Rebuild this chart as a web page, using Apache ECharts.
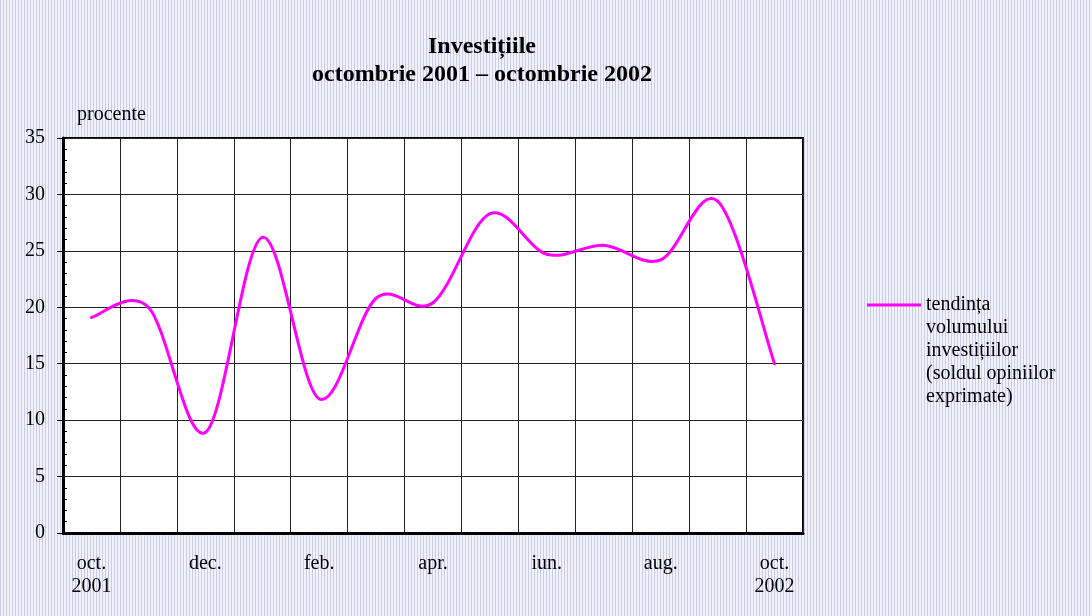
<!DOCTYPE html>
<html>
<head>
<meta charset="utf-8">
<script src="https://cdn.jsdelivr.net/npm/echarts@6/dist/echarts.min.js"></script>
<style>
html,body{margin:0;padding:0;}
body{width:1092px;height:616px;background:repeating-linear-gradient(90deg,#c9c9f1 0px,#c9c9f1 1px,#f3f3fc 1px,#f3f3fc 3px);}
#chart{width:1092px;height:616px;}
</style>
</head>
<body>
<div id="chart"></div>
<script>
var categories = ['oct.\n2001','nov.','dec.','ian.','feb.','mar.','apr.','mai','iun.','iul.','aug.','sep.','oct.\n2002'];
var seriesName = 'tendința\nvolumului\ninvestițiilor\n(soldul opiniilor\nexprimate)';
var values = [19.1, 20.0, 8.9, 26.2, 11.9, 20.8, 20.4, 28.3, 24.7, 25.5, 24.2, 29.4, 15.0];
var yTicks = {min: 0, max: 35, interval: 5};

var font = 'Liberation Serif, Times New Roman, serif';

// Smoothed line (Catmull-Rom style, as in spreadsheet charts), positioned through the axes
function renderSmooth(params, api) {
  if (params.dataIndex !== 0) return null;
  var pts = [];
  for (var i = 0; i < values.length; i++) pts.push(api.coord([i, values[i]]));
  var n = pts.length, children = [];
  function p(i) { return pts[Math.max(0, Math.min(n - 1, i))]; }
  for (var k = 0; k < n - 1; k++) {
    var p0 = p(k - 1), p1 = p(k), p2 = p(k + 1), p3 = p(k + 2);
    children.push({
      type: 'bezierCurve',
      shape: {
        x1: p1[0], y1: p1[1], x2: p2[0], y2: p2[1],
        cpx1: p1[0] + (p2[0] - p0[0]) / 6, cpy1: p1[1] + (p2[1] - p0[1]) / 6,
        cpx2: p2[0] - (p3[0] - p1[0]) / 6, cpy2: p2[1] - (p3[1] - p1[1]) / 6
      },
      style: {stroke: '#ff00ff', lineWidth: 3, fill: null, lineCap: 'round', lineJoin: 'round'}
    });
  }
  return {type: 'group', children: children};
}

var chart = echarts.init(document.getElementById('chart'), null, {renderer: 'canvas'});
chart.setOption({
  backgroundColor: 'transparent',
  animation: false,
  title: {
    text: 'Investițiile\noctombrie 2001 – octombrie 2002',
    left: 482, top: 33, padding: 0, textAlign: 'center',
    textStyle: {fontFamily: font, fontSize: 24, fontWeight: 'bold', color: '#000', lineHeight: 28}
  },
  legend: {
    left: 867, top: 201.5, padding: 0,
    icon: 'rect', itemWidth: 54, itemHeight: 3,
    data: [seriesName],
    formatter: function (name) { return '\n\n\n\n' + name; },
    itemStyle: {color: '#ff00ff'},
    textStyle: {fontFamily: font, fontSize: 20, lineHeight: 23, color: '#000'}
  },
  grid: {
    left: 63, top: 138, right: 289, bottom: 83,
    show: true, backgroundColor: '#fff', borderColor: '#000', borderWidth: 2
  },
  xAxis: {
    type: 'category', data: categories, boundaryGap: true,
    axisLine: {lineStyle: {color: '#000', width: 3}},
    axisTick: {show: false},
    axisLabel: {interval: 1, margin: 19, fontFamily: font, fontSize: 20, lineHeight: 23, color: '#000'},
    splitLine: {show: true, interval: 0, lineStyle: {color: '#222', width: 1}}
  },
  yAxis: [{
    type: 'value', min: yTicks.min, max: yTicks.max, interval: yTicks.interval, position: 'left',
    name: 'procente', nameLocation: 'end', nameGap: 23,
    nameTextStyle: {fontFamily: font, fontSize: 20, color: '#000', align: 'left', verticalAlign: 'middle', padding: [0, 0, 0, 14]},
    axisLine: {show: true, lineStyle: {color: '#000', width: 3}},
    axisTick: {show: true, length: 6, lineStyle: {color: '#000', width: 1}},
    axisLabel: {margin: 18, fontFamily: font, fontSize: 20, color: '#000'},
    splitLine: {show: true, lineStyle: {color: '#222', width: 1}}
  }, {
    type: 'value', min: yTicks.min, max: yTicks.max, interval: yTicks.interval, position: 'left', offset: 0,
    axisLine: {show: false},
    axisTick: {show: true, inside: true, length: 4, lineStyle: {color: '#000', width: 1}},
    minorTick: {show: true, splitNumber: 5, length: 4, lineStyle: {color: '#000', width: 1}},
    axisLabel: {show: false},
    splitLine: {show: false}
  }],
  series: [{
    name: seriesName, type: 'custom', yAxisIndex: 0,
    data: values.map(function (v, i) { return [i, v]; }),
    encode: {x: 0, y: 1},
    renderItem: renderSmooth,
    itemStyle: {color: '#ff00ff'},
    clip: false
  }]
});
</script>
</body>
</html>
